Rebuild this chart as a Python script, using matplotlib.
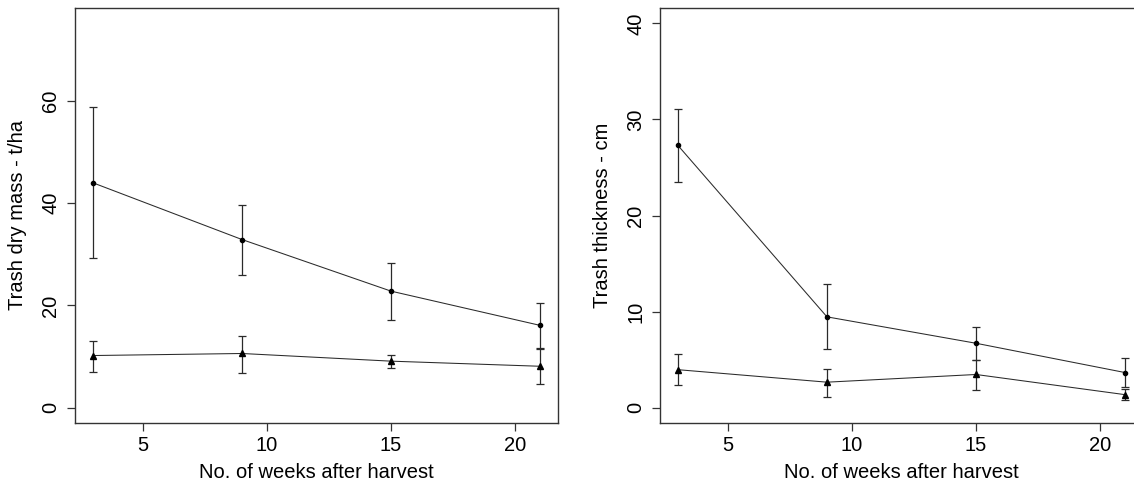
import numpy as np
import matplotlib.pyplot as plt

plt.rcParams['font.family'] = ['Liberation Sans', 'DejaVu Sans']

# weeks after harvest
weeks = [3, 9, 15, 21]

# left panel: trash dry mass (t/ha)
mass_hi = [44.0, 32.9, 22.8, 16.1]
mass_hi_lo = [29.3, 26.0, 17.1, 11.7]
mass_hi_up = [58.8, 39.7, 28.4, 20.5]
mass_lo = [10.2, 10.6, 9.1, 8.1]
mass_lo_lo = [7.0, 6.7, 7.8, 4.7]
mass_lo_up = [13.1, 14.1, 10.3, 11.5]

# right panel: trash thickness (cm)
thick_hi = [27.3, 9.45, 6.7, 3.65]
thick_hi_lo = [23.5, 6.1, 4.95, 2.1]
thick_hi_up = [31.1, 12.85, 8.35, 5.15]
thick_lo = [3.95, 2.65, 3.45, 1.35]
thick_lo_lo = [2.4, 1.1, 1.8, 0.75]
thick_lo_up = [5.6, 4.05, 4.95, 1.9]

fig = plt.figure(figsize=(11.34, 4.82), dpi=100)
ax1 = fig.add_axes([75/1134, 59/482, 483/1134, 415/482])
ax2 = fig.add_axes([660/1134, 59/482, 483/1134, 415/482])

ink = '#2a2a2a'


def draw_series(ax, y, lo, hi, marker, ms):
    y = np.array(y)
    yerr = [y - np.array(lo), np.array(hi) - y]
    ax.errorbar(weeks, y, yerr=yerr, fmt='none', ecolor=ink, elinewidth=0.9,
                capsize=3, capthick=0.9)
    ax.plot(weeks, y, color=ink, lw=0.75, marker=marker, ms=ms, mfc='black', mec='black')


def style(ax, ylim, yticks, ylabel):
    ax.set_xlim(2.28, 21.72)
    ax.set_ylim(*ylim)
    ax.set_xticks([5, 10, 15, 20])
    ax.set_yticks(yticks)
    for s in ax.spines.values():
        s.set_color('#333333')
        s.set_linewidth(1.0)
    ax.tick_params(colors='#333333', length=5.5, width=0.9, labelsize=14.5,
                   labelcolor='black')
    ax.tick_params(axis='x', pad=4)
    ax.tick_params(axis='y', pad=5)
    for lab in ax.get_yticklabels():
        lab.set_rotation(90)
        lab.set_va('center')
    ax.set_xlabel('No. of weeks after harvest', fontsize=14.5)
    ax.set_ylabel(ylabel, fontsize=14.5)
    ax.xaxis.set_label_coords(0.5, -0.096)
    ax.yaxis.set_label_coords(-0.099, 0.5)


draw_series(ax1, mass_hi, mass_hi_lo, mass_hi_up, 'o', 3)
draw_series(ax1, mass_lo, mass_lo_lo, mass_lo_up, '^', 5)
style(ax1, (-3.0, 78.2), [0, 20, 40, 60], 'Trash dry mass - t/ha')

draw_series(ax2, thick_hi, thick_hi_lo, thick_hi_up, 'o', 3)
draw_series(ax2, thick_lo, thick_lo_lo, thick_lo_up, '^', 5)
style(ax2, (-1.6, 41.6), [0, 10, 20, 30, 40], 'Trash thickness - cm')

fig.savefig('out.png', dpi=100)
